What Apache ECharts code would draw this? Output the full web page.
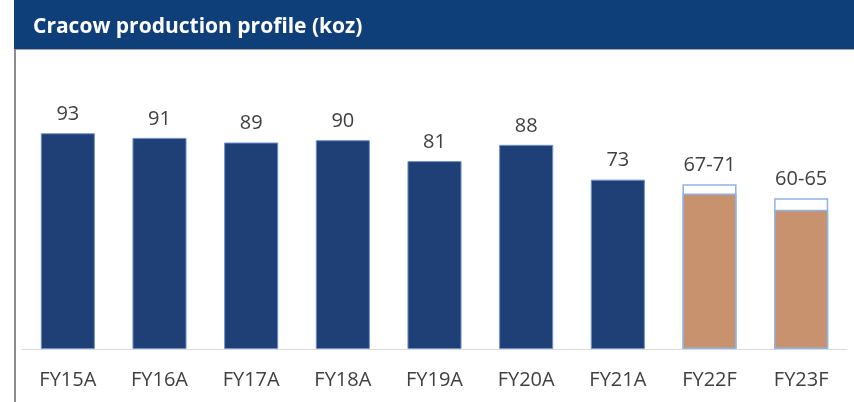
<!DOCTYPE html>
<html>
<head>
<meta charset="utf-8">
<script src="https://cdn.jsdelivr.net/npm/echarts@6/dist/echarts.min.js"></script>
<style>
  html, body { margin: 0; padding: 0; background: #fff; }
  #chart { width: 854px; height: 402px; }
</style>
</head>
<body>
<div id="chart"></div>
<script>
// production (koz), forecasts as low / high range
const categories = ['FY15A', 'FY16A', 'FY17A', 'FY18A', 'FY19A', 'FY20A', 'FY21A', 'FY22F', 'FY23F'];
const baseValues = [93, 91, 89, 90, 81, 88, 73, 67, 60];
const highValues = [null, null, null, null, null, null, null, 71, 65];
const valueLabels = ['93', '91', '89', '90', '81', '88', '73', '67-71', '60-65'];
const isForecast = [false, false, false, false, false, false, false, true, true];

const navy = '#1f3f77';
const tan = '#c8926e';
const edge = '#8db4e2';
const textColor = '#404040';
const font = '"Open Sans", sans-serif';

var chart = echarts.init(document.getElementById('chart'));

var option = {
  animation: false,
  graphic: [
    { type: 'rect', shape: { x: 14, y: 0, width: 840, height: 49 }, style: { fill: '#0e3f79' } },
    { type: 'rect', shape: { x: 14, y: 49, width: 840, height: 1 }, style: { fill: '#a6a6a6' } },
    { type: 'rect', shape: { x: 14, y: 49, width: 2, height: 353 }, style: { fill: '#8c8c8c' } },
    {
      type: 'text', left: 33, top: 17,
      style: { text: 'Cracow production profile (koz)', fill: '#fff', font: 'bold 21px "Open Sans", sans-serif' }
    }
  ],
  grid: { left: 22, right: 7, top: 117, bottom: 53 },
  xAxis: {
    type: 'category',
    data: categories,
    axisLine: { lineStyle: { color: '#d9d9d9', width: 1 } },
    axisTick: { show: false },
    axisLabel: { color: textColor, fontSize: 20, fontFamily: font, margin: 21 }
  },
  yAxis: { type: 'value', min: 0, max: 100, show: false },
  series: [
    {
      // outline of the forecast range, drawn behind
      type: 'bar',
      data: highValues.map(v => v == null ? null : { value: v }),
      barWidth: '59%',
      barGap: '-100%',
      z: 1,
      itemStyle: { color: '#fff', borderColor: edge, borderWidth: 1.5 },
      label: {
        show: true, position: 'top', distance: 9,
        color: textColor, fontSize: 20, fontFamily: font,
        formatter: p => valueLabels[p.dataIndex]
      }
    },
    {
      type: 'bar',
      data: baseValues.map((v, i) => ({
        value: v,
        itemStyle: isForecast[i]
          ? { color: tan, borderColor: edge, borderWidth: 1.5 }
          : { color: navy, borderColor: '#6f92c8', borderWidth: 1 },
        label: { show: !isForecast[i] }
      })),
      barWidth: '59%',
      barGap: '-100%',
      z: 2,
      label: {
        position: 'top', distance: 9,
        color: textColor, fontSize: 20, fontFamily: font,
        formatter: p => valueLabels[p.dataIndex]
      }
    }
  ]
};

chart.setOption(option);
</script>
</body>
</html>
